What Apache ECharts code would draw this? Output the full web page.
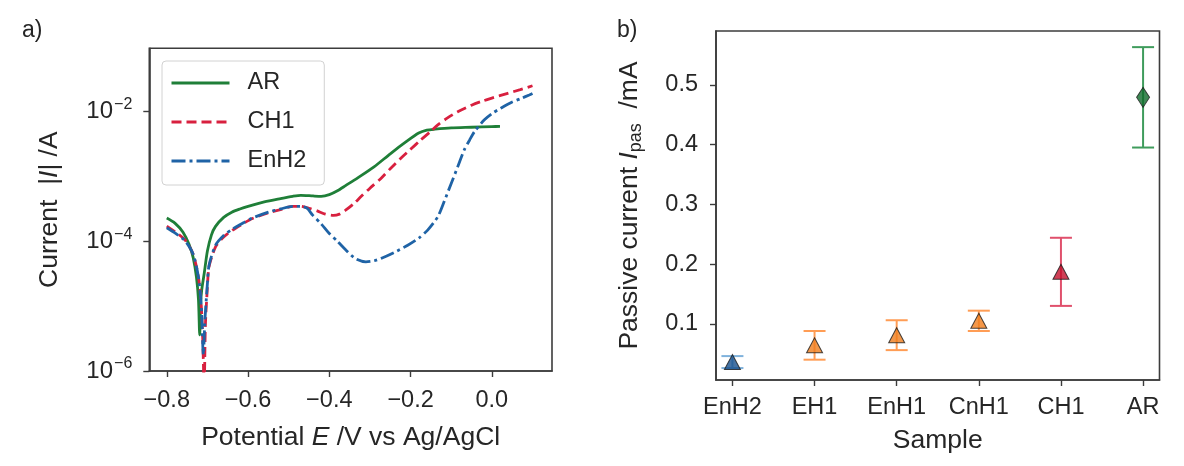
<!DOCTYPE html>
<html>
<head>
<meta charset="utf-8">
<script src="https://cdn.jsdelivr.net/npm/echarts@6/dist/echarts.min.js"></script>
<style>
  html, body { margin: 0; padding: 0; background: #ffffff; }
  #chart { width: 1184px; height: 466px; }
</style>
</head>
<body>
<div id="chart"></div>
<script>
// ---- a) polarisation curves: potential E (V vs Ag/AgCl) and |I| (A) ----
const curveAR = [
  [-0.800, 2.29e-4], [-0.780, 1.91e-4], [-0.760, 1.38e-4], [-0.745, 8.9e-5],
  [-0.735, 5.6e-5], [-0.727, 2.8e-5], [-0.722, 1.26e-5], [-0.719, 3.6e-6],
  [-0.717, 1.0e-5], [-0.714, 1.78e-5], [-0.708, 3.16e-5], [-0.700, 7.1e-5],
  [-0.690, 1.26e-4], [-0.680, 1.70e-4], [-0.660, 2.34e-4], [-0.640, 2.82e-4],
  [-0.620, 3.16e-4], [-0.600, 3.47e-4], [-0.560, 4.07e-4], [-0.520, 4.57e-4],
  [-0.490, 4.95e-4], [-0.470, 5.13e-4], [-0.440, 5.01e-4], [-0.420, 4.95e-4],
  [-0.400, 5.25e-4], [-0.380, 6.03e-4], [-0.360, 7.24e-4], [-0.330, 9.55e-4],
  [-0.290, 1.41e-3], [-0.250, 2.24e-3], [-0.210, 3.47e-3], [-0.180, 4.68e-3],
  [-0.160, 5.19e-3], [-0.140, 5.37e-3], [-0.100, 5.62e-3], [-0.050, 5.75e-3],
  [0.000, 5.89e-3], [0.020, 5.94e-3]
];
const curveCH1 = [
  [-0.800, 1.72e-4], [-0.780, 1.41e-4], [-0.755, 1.05e-4], [-0.735, 6.3e-5],
  [-0.722, 2.8e-5], [-0.715, 1.0e-5], [-0.711, 2.5e-6], [-0.708, 5.0e-7],
  [-0.705, 5.0e-6], [-0.700, 2.0e-5], [-0.696, 4.07e-5], [-0.680, 8.2e-5],
  [-0.660, 1.17e-4], [-0.638, 1.49e-4], [-0.610, 1.91e-4], [-0.589, 2.25e-4],
  [-0.550, 2.75e-4], [-0.520, 3.09e-4], [-0.490, 3.47e-4], [-0.470, 3.47e-4],
  [-0.450, 3.24e-4], [-0.430, 2.95e-4], [-0.410, 2.63e-4], [-0.390, 2.51e-4],
  [-0.375, 2.63e-4], [-0.360, 3.02e-4], [-0.340, 3.80e-4], [-0.322, 4.90e-4],
  [-0.300, 6.61e-4], [-0.273, 9.33e-4], [-0.250, 1.32e-3], [-0.224, 1.91e-3],
  [-0.200, 2.63e-3], [-0.175, 3.66e-3], [-0.150, 5.01e-3], [-0.133, 6.24e-3],
  [-0.110, 7.94e-3], [-0.084, 1.00e-2], [-0.050, 1.26e-2], [-0.027, 1.43e-2],
  [0.000, 1.62e-2], [0.039, 1.92e-2], [0.070, 2.19e-2], [0.100, 2.51e-2]
];
const curveEnH2 = [
  [-0.800, 1.62e-4], [-0.780, 1.35e-4], [-0.755, 1.02e-4], [-0.735, 6.3e-5],
  [-0.722, 2.8e-5], [-0.715, 1.0e-5], [-0.710, 1.78e-6], [-0.706, 6.3e-6],
  [-0.700, 2.24e-5], [-0.696, 4.27e-5], [-0.680, 8.7e-5], [-0.660, 1.23e-4],
  [-0.638, 1.55e-4], [-0.610, 1.95e-4], [-0.589, 2.29e-4], [-0.550, 2.82e-4],
  [-0.520, 3.16e-4], [-0.490, 3.47e-4], [-0.470, 3.47e-4], [-0.455, 3.24e-4],
  [-0.441, 2.54e-4], [-0.420, 1.86e-4], [-0.400, 1.32e-4], [-0.380, 1.00e-4],
  [-0.359, 7.31e-5], [-0.335, 5.37e-5], [-0.310, 4.82e-5], [-0.290, 5.01e-5],
  [-0.273, 5.45e-5], [-0.240, 6.76e-5], [-0.207, 8.7e-5], [-0.180, 1.12e-4],
  [-0.158, 1.49e-4], [-0.133, 2.40e-4], [-0.117, 4.17e-4], [-0.100, 7.83e-4],
  [-0.084, 1.41e-3], [-0.068, 2.57e-3], [-0.055, 3.63e-3], [-0.043, 4.90e-3],
  [-0.019, 7.45e-3], [0.000, 9.33e-3], [0.022, 1.13e-2], [0.050, 1.41e-2],
  [0.070, 1.58e-2], [0.092, 1.81e-2], [0.100, 1.91e-2]
];
const potentialTicks = [-0.8, -0.6, -0.4, -0.2, 0.0];
const currentTicks = [1e-6, 1e-4, 1e-2];

// ---- b) passive current per sample (mA), mean and spread ----
const samples = ['EnH2', 'EH1', 'EnH1', 'CnH1', 'CH1', 'AR'];
const passiveMean = [0.036, 0.064, 0.081, 0.105, 0.187, 0.479];
const passiveErr = [0.010, 0.024, 0.025, 0.017, 0.057, 0.084];
const passiveTicks = [0.1, 0.2, 0.3, 0.4, 0.5];

// styling
const FONT = 'Liberation Sans, Arial, sans-serif';
const INK = '#262626';
const FRAME = '#3c3c3c';
const C_AR = '#1f7f38';
const C_CH1 = '#d8203f';
const C_EN = '#1f63a6';
const markerColors = ['#174f8c', '#f07d1c', '#f07d1c', '#f07d1c', '#c3102c', '#0f6a2a'];
const barColors = ['#7fb2dc', '#ff9d55', '#ff9d55', '#ff9d55', '#e0506c', '#3f9c5c'];
const markerShapes = ['triangle', 'triangle', 'triangle', 'triangle', 'triangle', 'diamond'];
const markerSizes = [[16, 15], [16, 15], [16, 15], [16, 15], [16, 15], [13, 20]];

const TICK_FS = 23.5;
const NAME_FS = 26.5;
const LINE_W = 2.8;

const chart = echarts.init(document.getElementById('chart'), null, { renderer: 'canvas' });

const supRich = {
  b: { fontFamily: FONT, fontSize: 24, color: INK },
  s: { fontFamily: FONT, fontSize: 16, color: INK, padding: [0, 0, 14, 1] }
};

function fmtPotential(v) {
  const s = Math.abs(v).toFixed(1);
  return v < -1e-9 ? '\u2212' + s : s;
}
function fmtPower(v) {
  const e = Math.round(Math.log10(v));
  return '{b|10}{s|' + (e < 0 ? '\u2212' + (-e) : e) + '}';
}

function axisBase() {
  return {
    axisLine: { show: true, onZero: false, lineStyle: { color: FRAME, width: 1.6 } },
    axisTick: { show: true, length: 6, lineStyle: { color: FRAME, width: 1.4 } },
    splitLine: { show: false }
  };
}
function withTicks(base, values) {
  base.axisTick.customValues = values;
  return base;
}

const italic = { fontFamily: FONT, fontSize: NAME_FS, fontStyle: 'italic', color: INK };

const option = {
  backgroundColor: '#ffffff',
  animation: false,
  textStyle: { fontFamily: FONT, color: INK },
  graphic: [
    { type: 'text', left: 22, top: 19, style: { text: 'a)', font: '23px ' + FONT, fill: INK } },
    { type: 'text', left: 617, top: 19, style: { text: 'b)', font: '23px ' + FONT, fill: INK } }
  ],
  grid: [
    { left: 149.3, top: 48.3, right: 632, bottom: 95, show: true, borderColor: FRAME, borderWidth: 1.6, backgroundColor: 'transparent' },
    { left: 716, top: 31, right: 24.5, bottom: 86, show: true, borderColor: FRAME, borderWidth: 1.6, backgroundColor: 'transparent' }
  ],
  legend: {
    data: ['AR', 'CH1', 'EnH2'],
    orient: 'vertical',
    left: 162, top: 61,
    padding: [10, 18, 12, 8],
    itemWidth: 58, itemHeight: 14,
    itemGap: 15,
    itemStyle: { opacity: 0 },
    lineStyle: { width: 3 },
    backgroundColor: '#ffffff',
    borderColor: '#d2d2d2', borderWidth: 1, borderRadius: 4,
    textStyle: { fontFamily: FONT, fontSize: 23.5, color: INK, padding: [0, 0, 0, 13] }
  },
  xAxis: [
    Object.assign(withTicks(axisBase(), potentialTicks), {
      gridIndex: 0, type: 'value', min: -0.843, max: 0.148,
      name: 'Potential {i|E} /V vs Ag/AgCl',
      nameLocation: 'middle', nameGap: 53,
      nameTextStyle: { fontFamily: FONT, fontSize: NAME_FS, color: INK, rich: { i: italic } },
      axisLabel: { customValues: potentialTicks, formatter: fmtPotential, fontFamily: FONT, fontSize: TICK_FS, color: INK, margin: 18 }
    }),
    Object.assign(withTicks(axisBase(), [0, 1, 2, 3, 4, 5]), {
      gridIndex: 1, type: 'value', min: -0.2, max: 5.2,
      name: 'Sample', nameLocation: 'middle', nameGap: 47,
      nameTextStyle: { fontFamily: FONT, fontSize: NAME_FS, color: INK },
      axisLabel: { customValues: [0, 1, 2, 3, 4, 5], formatter: v => samples[Math.round(v)] || '',
        fontFamily: FONT, fontSize: TICK_FS, color: INK, margin: 16 }
    })
  ],
  yAxis: [
    Object.assign(withTicks(axisBase(), currentTicks), {
      gridIndex: 0, type: 'log', logBase: 10, min: 1e-6, max: 0.095,
      name: 'Current  |{i|I}| /A', nameLocation: 'middle', nameGap: 86,
      nameTextStyle: { fontFamily: FONT, fontSize: NAME_FS, color: INK, rich: { i: italic } },
      axisLabel: { customValues: currentTicks, formatter: fmtPower, rich: supRich, margin: 17 }
    }),
    Object.assign(withTicks(axisBase(), passiveTicks), {
      gridIndex: 1, type: 'value', min: 0.006, max: 0.59,
      name: 'Passive current {i|I}{sub|pas}  /mA', nameLocation: 'middle', nameGap: 71,
      nameTextStyle: { fontFamily: FONT, fontSize: NAME_FS, color: INK,
        rich: {
          i: italic,
          sub: { fontFamily: FONT, fontSize: 18, color: INK, padding: [13, 0, 0, 0] }
        } },
      axisLabel: { customValues: passiveTicks, formatter: v => v.toFixed(1),
        fontFamily: FONT, fontSize: TICK_FS, color: INK, margin: 18 }
    })
  ],
  series: [
    {
      name: 'AR', type: 'line', xAxisIndex: 0, yAxisIndex: 0,
      data: curveAR, showSymbol: false, symbol: 'none', smooth: 0.25, clip: true,
      lineStyle: { color: C_AR, width: LINE_W }, itemStyle: { color: C_AR }, z: 3
    },
    {
      name: 'CH1', type: 'line', xAxisIndex: 0, yAxisIndex: 0,
      data: curveCH1, showSymbol: false, symbol: 'none', smooth: 0.25, clip: true,
      lineStyle: { color: C_CH1, width: LINE_W, type: [10, 5] }, itemStyle: { color: C_CH1 }, z: 4
    },
    {
      name: 'EnH2', type: 'line', xAxisIndex: 0, yAxisIndex: 0,
      data: curveEnH2, showSymbol: false, symbol: 'none', smooth: 0.25, clip: true,
      lineStyle: { color: C_EN, width: LINE_W, type: [14, 4, 3, 4] }, itemStyle: { color: C_EN }, z: 5
    },
    {
      name: 'spread', type: 'custom', xAxisIndex: 1, yAxisIndex: 1,
      data: samples.map((s, i) => [i, passiveMean[i], passiveErr[i]]),
      renderItem: function (params, api) {
        const x = api.value(0), m = api.value(1), e = api.value(2);
        const hi = api.coord([x, m + e]);
        const lo = api.coord([x, m - e]);
        const col = barColors[params.dataIndex];
        const st = { stroke: col, lineWidth: 2, fill: null };
        const w = 11;
        return {
          type: 'group',
          children: [
            { type: 'line', shape: { x1: hi[0], y1: hi[1], x2: lo[0], y2: lo[1] }, style: st },
            { type: 'line', shape: { x1: hi[0] - w, y1: hi[1], x2: hi[0] + w, y2: hi[1] }, style: st },
            { type: 'line', shape: { x1: lo[0] - w, y1: lo[1], x2: lo[0] + w, y2: lo[1] }, style: st }
          ]
        };
      },
      z: 2
    },
    {
      name: 'mean', type: 'scatter', xAxisIndex: 1, yAxisIndex: 1,
      data: samples.map((s, i) => ({
        value: [i, passiveMean[i]],
        symbol: markerShapes[i],
        symbolSize: markerSizes[i],
        itemStyle: { color: markerColors[i], borderColor: '#1a1a1a', borderWidth: 1 }
      })),
      z: 6
    }
  ]
};

chart.setOption(option);
</script>
</body>
</html>
